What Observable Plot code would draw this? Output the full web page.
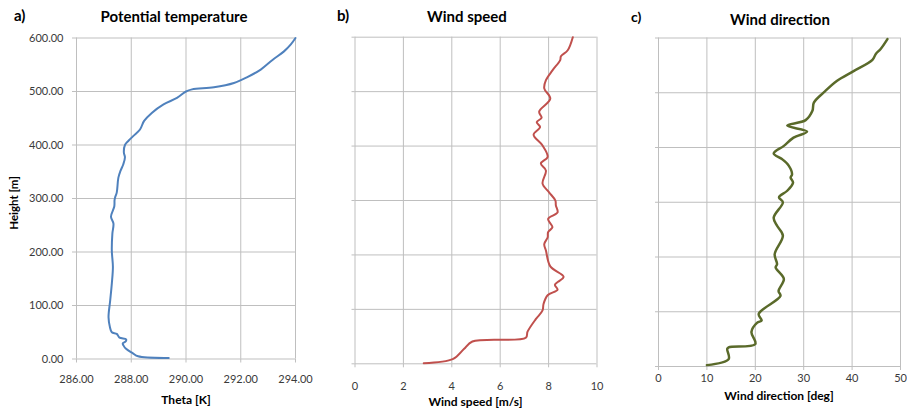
<!DOCTYPE html>
<html>
<head>
<meta charset="utf-8">
<script src="https://cdn.jsdelivr.net/npm/d3@7"></script>
<script src="https://cdn.jsdelivr.net/npm/@observablehq/plot@0.6"></script>
<style>
  body { margin: 0; background: #fff; }
  #wrap { position: relative; width: 907px; height: 413px; overflow: hidden; background: #fff; }
  #wrap > svg, #wrap > figure { position: absolute; top: 0; margin: 0; }
</style>
</head>
<body>
<div id="wrap"></div>
<script>
// ---------- data ----------
const heightTicks = [0, 100, 200, 300, 400, 500, 600];
const thetaTicks = [286, 288, 290, 292, 294];
const speedTicks = [0, 2, 4, 6, 8, 10];
const dirTicks = [0, 10, 20, 30, 40, 50];

const thetaHeights = [2, 5, 11, 19, 25, 29, 33, 37, 40, 47, 50, 60, 78, 109, 141, 172, 203, 234, 253, 266, 285, 297,
  302, 311, 339, 352, 364, 377, 386, 400, 408, 417, 429, 445, 460, 476, 488, 500, 504, 508, 516, 527, 541, 559, 575, 588, 600];
const thetaValues = [289.37, 288.25, 288.05, 287.81, 287.72, 287.69, 287.80, 287.81, 287.57, 287.47, 287.29, 287.22, 287.17, 287.23, 287.29, 287.33, 287.29, 287.31, 287.35, 287.26, 287.38, 287.39,
  287.41, 287.47, 287.53, 287.61, 287.71, 287.77, 287.73, 287.77, 287.90, 288.08, 288.32, 288.47, 288.75, 289.18, 289.67, 290.00, 290.22, 291.02, 291.75, 292.24, 292.73, 293.16, 293.58, 293.83, 294.00];

const speedHeights = [1, 9, 27, 41, 48, 59, 82, 98, 110, 126, 136, 145, 150, 160, 179, 208, 220, 232, 242, 251, 266, 278, 291, 300,
  315, 331, 355, 368, 380, 401, 421, 435, 444, 452, 463, 487, 506, 521, 539, 558, 565, 576, 600];
const speedValues = [2.84, 4.06, 4.50, 4.85, 7.06, 7.13, 7.47, 7.75, 7.79, 7.96, 8.37, 8.26, 8.37, 8.62, 8.07, 7.89, 7.82, 7.96, 7.98, 8.16, 7.98, 8.37, 8.30, 8.28,
  8.02, 7.75, 7.89, 7.68, 7.96, 7.75, 7.38, 7.65, 7.51, 7.71, 7.61, 8.07, 7.82, 7.89, 8.16, 8.48, 8.51, 8.79, 9.00];

const dirHeights = [2.5, 13.5, 32, 35, 41, 63, 80, 84, 96, 129, 138, 160, 181, 187, 205, 239, 257, 272, 300, 309,
  321, 336, 345, 351, 367, 379, 389, 403, 418, 429, 440, 450, 467, 482, 501, 522, 540, 560, 571, 580, 598];
const dirValues = [10.0, 14.5, 14.2, 14.5, 20.0, 19.2, 20.4, 21.3, 20.7, 25.2, 24.8, 25.9, 24.2, 24.5, 24.0, 25.7, 24.5, 23.8, 25.7, 24.9,
  26.6, 27.8, 27.3, 27.6, 26.9, 25.5, 23.8, 25.9, 27.9, 30.7, 26.6, 30.4, 31.8, 32.1, 34.2, 36.9, 40.4, 44.2, 44.9, 45.9, 47.3];

// ---------- drawing ----------
const FONT = "Lato, 'Open Sans', sans-serif";
const GRID = "#bfbfbf";
const TICKTXT = "#3a3a3a";
const wrap = document.getElementById("wrap");

function panel(o) {
  const data = o.values.map((v, i) => ({x: v, h: o.heights[i]}));
  const chart = Plot.plot({
    width: o.width, height: 413,
    marginLeft: o.ml, marginRight: o.mr, marginTop: o.mt, marginBottom: o.mb,
    style: {fontFamily: FONT, fontSize: "11px", color: TICKTXT, background: "transparent", overflow: "visible"},
    x: {domain: o.xdomain},
    y: {domain: [0, 600]},
    marks: [
      Plot.gridX(o.xticks, {stroke: GRID, strokeOpacity: 1, strokeWidth: 1}),
      Plot.gridY(heightTicks, {stroke: GRID, strokeOpacity: 1, strokeWidth: 1}),
      Plot.axisX(o.xticks, {tickFormat: o.fmt, tickSize: 4, tickPadding: o.tickPad, stroke: GRID, label: null, fill: TICKTXT}),
      o.showY
        ? Plot.axisY(heightTicks, {tickFormat: d3.format(".2f"), tickSize: 4, tickPadding: 9, stroke: GRID, label: null, fill: TICKTXT})
        : Plot.axisY(heightTicks, {tickFormat: () => "", tickSize: 3, stroke: GRID, label: null}),
      Plot.line(data, {x: "x", y: "h", stroke: o.color, strokeWidth: o.sw, curve: "catmull-rom"})
    ]
  });
  chart.style.left = o.left + "px";
  wrap.appendChild(chart);
}

panel({left: 0, width: 310, ml: 76, mr: 15, mt: 37.5, mb: 54.5, xdomain: [286, 294], xticks: thetaTicks,
  fmt: d3.format(".2f"), tickPad: 12, showY: true, values: thetaValues, heights: thetaHeights, color: "#4f81bd", sw: 2});
panel({left: 320, width: 290, ml: 34.5, mr: 13.5, mt: 36.7, mb: 49.7, xdomain: [0, 10], xticks: speedTicks,
  fmt: d3.format("d"), tickPad: 14, showY: false, values: speedValues, heights: speedHeights, color: "#c0504d", sw: 2});
panel({left: 620, width: 287, ml: 38, mr: 7, mt: 37.5, mb: 47, xdomain: [0, 50], xticks: dirTicks,
  fmt: d3.format("d"), tickPad: 4, showY: false, values: dirValues, heights: dirHeights, color: "#5a6a2a", sw: 2.5});

// ---------- titles / labels overlay ----------
const texts = [
  {t: "a)", x: 14, y: 21, s: 15, a: "start"},
  {t: "Potential temperature", x: 174, y: 22, s: 15, a: "middle"},
  {t: "Theta [K]", x: 186, y: 404, s: 12, a: "middle"},
  {t: "b)", x: 337, y: 21, s: 15, a: "start"},
  {t: "Wind speed", x: 467, y: 22, s: 15, a: "middle"},
  {t: "Wind speed [m/s]", x: 475.5, y: 406, s: 12, a: "middle"},
  {t: "c)", x: 631, y: 22, s: 14, a: "start"},
  {t: "Wind direction", x: 780, y: 25, s: 15, a: "middle"},
  {t: "Wind direction [deg]", x: 779, y: 400, s: 12, a: "middle"}
];
const ov = d3.select(wrap).append("svg")
  .attr("width", 907).attr("height", 413)
  .style("left", "0px").style("pointer-events", "none")
  .style("font-family", FONT).style("font-weight", "bold");
ov.selectAll("text.l").data(texts).join("text")
  .attr("x", d => d.x).attr("y", d => d.y)
  .attr("text-anchor", d => d.a).attr("font-size", d => d.s)
  .attr("fill", "#000").text(d => d.t);
ov.append("text")
  .attr("transform", "translate(17.5,203) rotate(-90)")
  .attr("text-anchor", "middle").attr("font-size", 11.5).attr("fill", "#000")
  .text("Height [m]");
</script>
</body>
</html>
